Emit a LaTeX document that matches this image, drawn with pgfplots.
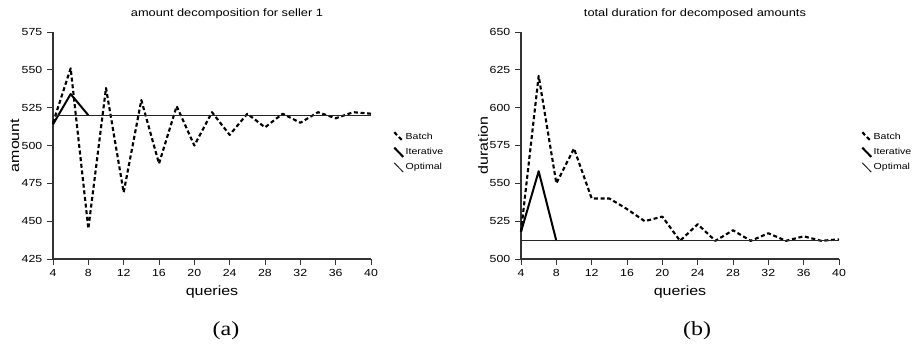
\documentclass[border=0pt]{standalone}
\usepackage{fontspec}
\setmainfont[FakeStretch=1.2]{Liberation Sans}
\newfontfamily\capfont[FakeStretch=1.2]{Liberation Serif}
\usepackage{pgfplots}
\pgfplotsset{compat=1.18}

\pgfplotstableread{
x y
4 515
6 551
8 445
10 538
12 469
14 530
16 488
18 526
20 500
22 522
24 507
26 521
28 512
30 521
32 515
34 522
36 518
38 522
40 521
}\batchA
\pgfplotstableread{
x y
4 514
6 534
8 520
}\iterA
\pgfplotstableread{
x y
4 520
40 520
}\optA
\pgfplotstableread{
x y
4 518
6 621
8 550
10 573
12 540
14 540
16 533
18 525
20 528
22 512
24 523
26 512
28 519
30 512
32 517
34 512
36 515
38 512
40 513
}\batchB
\pgfplotstableread{
x y
4 518
6 558
8 512
}\iterB
\pgfplotstableread{
x y
4 512
40 512
}\optB

\begin{document}
\begin{tikzpicture}
\path[use as bounding box] (0,0) rectangle (692.25pt,261.75pt);
\pgfplotsset{
  myax/.style={
    scale only axis, width=238.5pt, height=170.25pt,
    anchor=south west,
    xmin=4, xmax=40, xtick={4,8,...,40},
    axis x line*=bottom, axis y line*=left,
    axis line style={line width=0.9pt, black!80, -},
    tick align=outside, major tick length=4.5pt,
    tick style={black!80, line width=0.6pt},
    ticklabel style={font=\fontsize{7.7}{9}\selectfont},
    /pgf/number format/assume math mode=true,
    label style={font=\fontsize{8}{10}\selectfont},
    xlabel={queries},
    every axis x label/.style={at={(axis description cs:0.5,-0.145)}, anchor=center},
    every axis y label/.style={at={(axis description cs:-0.1195,0.5)}, rotate=90, anchor=center},
    title style={font=\fontsize{8}{10}\selectfont, at={(axis description cs:0.547,1.045)}, anchor=center},
    legend style={draw=none, fill=none, inner sep=0pt, font=\fontsize{6.6}{8}\selectfont,
      at={(axis description cs:1.069,0.471)}, anchor=west, row sep=3pt,
      nodes={inner sep=1pt}},
    legend cell align=left,
    legend image code/.code={\draw[##1] (0pt,3.5pt) -- (6.75pt,-3.5pt);},
    clip=false,
  },
  batch/.style={black, line width=1.6pt, dash pattern=on 3pt off 2pt, line join=round, mark=none},
  iter/.style={black, line width=1.5pt, line join=round, mark=none},
  opt/.style={black!85, line width=0.75pt, mark=none},
}
\begin{axis}[myax, at={(39.75pt,67.5pt)},
  ymin=425, ymax=575, ytick={425,450,...,575},
  ylabel={amount}, title={amount decomposition for seller 1}]
\addplot[batch] table[x=x,y=y] {\batchA};
\addplot[iter] table[x=x,y=y] {\iterA};
\addplot[opt] table[x=x,y=y] {\optA};
\legend{Batch,Iterative,Optimal}
\end{axis}
\begin{axis}[myax, at={(390.75pt,67.5pt)},
  ymin=500, ymax=650, ytick={500,525,...,650},
  ylabel={duration}, title={total duration for decomposed amounts}]
\addplot[batch] table[x=x,y=y] {\batchB};
\addplot[iter] table[x=x,y=y] {\iterB};
\addplot[opt] table[x=x,y=y] {\optB};
\legend{Batch,Iterative,Optimal}
\end{axis}
\node[font=\capfont\fontsize{15}{17}\selectfont] at (169.5pt,13.5pt) {(a)};
\node[font=\capfont\fontsize{15}{17}\selectfont] at (522.75pt,13.5pt) {(b)};
\end{tikzpicture}
\end{document}
